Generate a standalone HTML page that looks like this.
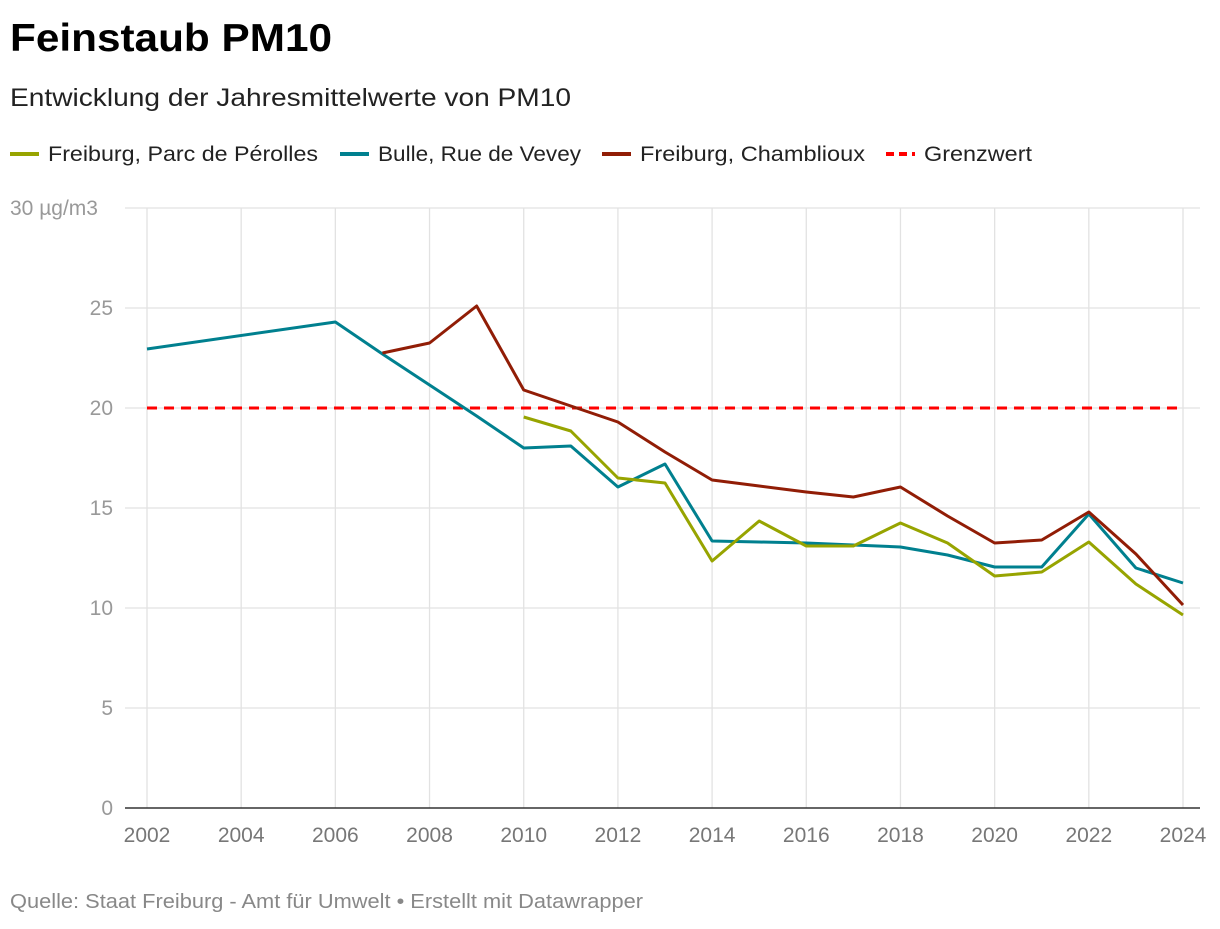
<!DOCTYPE html>
<html><head><meta charset="utf-8">
<style>
body{margin:0;background:#fff;font-family:"Liberation Sans",Arial,sans-serif;}
svg text{font-family:"Liberation Sans",Arial,sans-serif;}
</style></head>
<body>
<svg width="1220" height="924" xmlns="http://www.w3.org/2000/svg">
<text x="10" y="51" font-size="39" font-weight="bold" fill="#000" textLength="322" lengthAdjust="spacingAndGlyphs">Feinstaub PM10</text>
<text x="10" y="106" font-size="25" fill="#222" textLength="561" lengthAdjust="spacingAndGlyphs">Entwicklung der Jahresmittelwerte von PM10</text>
<g id="legend"></g>
<g id="grid"></g>
<g id="series"></g>
<text x="10" y="908" font-size="20" fill="#888" textLength="633" lengthAdjust="spacingAndGlyphs">Quelle: Staat Freiburg - Amt für Umwelt • Erstellt mit Datawrapper</text>
</svg>
<script>
const xTicks=[2002,2004,2006,2008,2010,2012,2014,2016,2018,2020,2022,2024];
const yTicks=[0,5,10,15,20,25,30];
const limitValue=20;
const perollesYears=[2010,2011,2012,2013,2014,2015,2016,2017,2018,2019,2020,2021,2022,2023,2024];
const perollesValues=[19.55,18.85,16.5,16.25,12.35,14.35,13.1,13.1,14.25,13.25,11.6,11.8,13.3,11.2,9.65];
const bulleYears=[2002,2006,2007,2008,2009,2010,2011,2012,2013,2014,2015,2016,2017,2018,2019,2020,2021,2022,2023,2024];
const bulleValues=[22.95,24.3,22.7,21.15,19.6,18.0,18.1,16.05,17.2,13.35,13.3,13.25,13.15,13.05,12.65,12.05,12.05,14.7,12.0,11.25];
const chamYears=[2007,2008,2009,2010,2011,2012,2013,2014,2015,2016,2017,2018,2019,2020,2021,2022,2023,2024];
const chamValues=[22.75,23.25,25.1,20.9,20.1,19.3,17.8,16.4,16.1,15.8,15.55,16.05,14.6,13.25,13.4,14.8,12.7,10.15];

const NS="http://www.w3.org/2000/svg";
const xs=y=>147+(y-2002)*(1183-147)/22;
const ys=v=>808-v*20;
function mk(tag,attrs,parent){const e=document.createElementNS(NS,tag);for(const k in attrs)e.setAttribute(k,attrs[k]);parent.appendChild(e);return e;}
const grid=document.getElementById('grid'),ser=document.getElementById('series'),leg=document.getElementById('legend');
xTicks.forEach(t=>{
 const l=mk('line',{x1:xs(t),x2:xs(t),y1:208,y2:808,stroke:'#e2e2e2','stroke-width':1.3},grid);
 
 
 const tx=mk('text',{x:xs(t),y:842,'font-size':21,fill:'#777','text-anchor':'middle'},grid);tx.textContent=t;
 
 
});
yTicks.forEach(t=>{
 const l=mk('line',{x1:125,x2:1200,y1:ys(t),y2:ys(t),stroke:t===0?'#333':'#e2e2e2','stroke-width':t===0?1.5:1.3},grid);
 
 
 const tx=mk('text',{x:t===30?10:113,y:ys(t)+7,'font-size':21,fill:'#999','text-anchor':t===30?'start':'end'},grid);
 tx.textContent=t===30?'30 µg/m3':t;
 
 
});
const lim=mk('line',{x1:xs(2002),x2:xs(2024),y1:ys(limitValue),y2:ys(limitValue),stroke:'#ff0000','stroke-width':3,'stroke-dasharray':'10,7'},ser);


function line(years,vals,color,name){
 const p=mk('polyline',{points:years.map((y,i)=>xs(y)+','+ys(vals[i])).join(' '),fill:'none',stroke:color,'stroke-width':3,'stroke-linejoin':'round'},ser);
 
 
}
line(bulleYears,bulleValues,'#00808f','line-bulle');
line(chamYears,chamValues,'#911d06','line-chamblioux');
line(perollesYears,perollesValues,'#97a400','line-perolles');
const items=[['Freiburg, Parc de Pérolles','#97a400',10,false,270],['Bulle, Rue de Vevey','#00808f',340,false,203],['Freiburg, Chamblioux','#911d06',602,false,225],['Grenzwert','#ff0000',886,true,108]];
items.forEach(it=>{
 const g=mk('g',{},leg);
 
 
 mk('line',{x1:it[2],x2:it[2]+29,y1:154,y2:154,stroke:it[1],'stroke-width':4,'stroke-dasharray':it[3]?'8,5':'none'},g);
 const t=mk('text',{x:it[2]+38,y:161,'font-size':21,fill:'#222',textLength:it[4],lengthAdjust:'spacingAndGlyphs'},g);t.textContent=it[0];
});
</script>
</body></html>
